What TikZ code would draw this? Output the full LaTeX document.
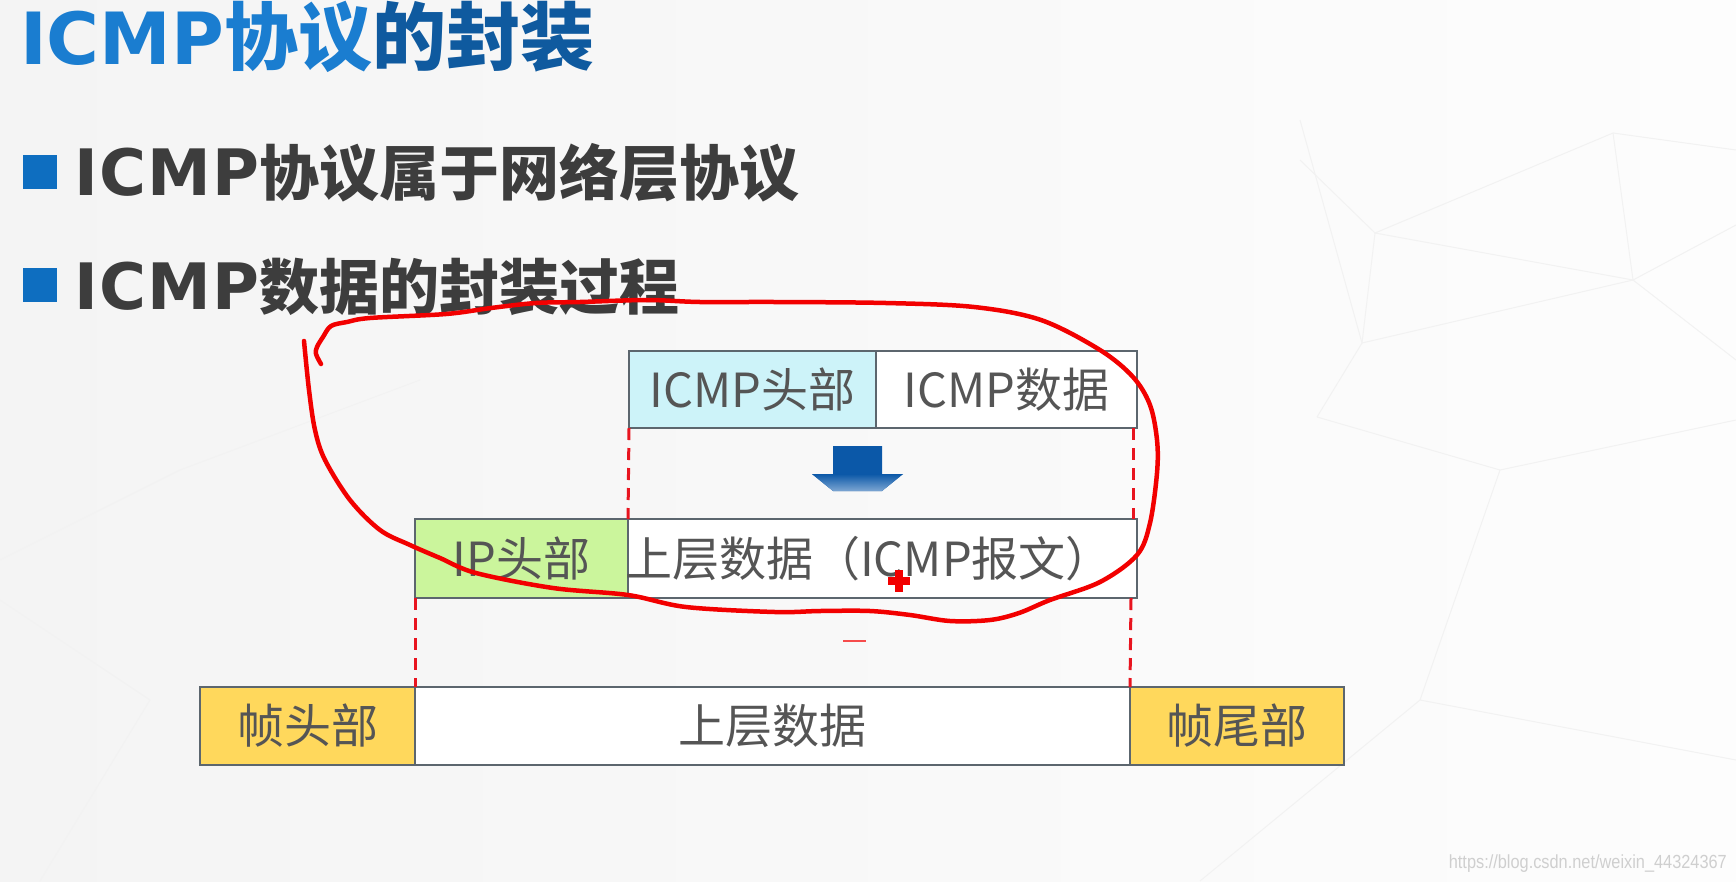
\documentclass[tikz,border=0pt]{standalone}
\usepackage{fontspec}
\newfontfamily\cjk{Noto Sans CJK SC}
\newfontfamily\latb{DejaVu Sans}
\newfontfamily\wmfont{Liberation Sans}
\definecolor{bgL}{HTML}{F4F4F4}
\definecolor{bgR}{HTML}{FDFDFD}
\definecolor{bgline}{HTML}{F2F2F2}
\definecolor{titleA}{HTML}{1A7DD0}
\definecolor{titleB}{HTML}{0F5A9F}
\definecolor{bullblue}{HTML}{0E6EC0}
\definecolor{bulltext}{HTML}{3D3D3D}
\definecolor{boxline}{HTML}{5C666E}
\definecolor{boxtext}{HTML}{555555}
\definecolor{cyanfill}{HTML}{CDF3F9}
\definecolor{greenfill}{HTML}{CBF59C}
\definecolor{yellowfill}{HTML}{FFD85C}
\definecolor{dashred}{HTML}{E8141F}
\definecolor{penred}{HTML}{F20000}
\definecolor{arrowblue}{HTML}{0B58A8}
\definecolor{arrowlight}{HTML}{7DA6D2}
\definecolor{wmgray}{HTML}{CFCFCF}
\begin{document}
\begin{tikzpicture}[x=1pt,y=-1pt,
  pktbox/.style={draw=boxline, line width=2pt, inner sep=0pt, outer sep=0pt,
    text=boxtext, font=\cjk\fontsize{47}{47}\selectfont},
  reddash/.style={draw=dashred, line width=3pt, dash pattern=on 12pt off 8pt},
  redpen/.style={draw=penred, line width=4.5pt, line cap=round, line join=round},
  bullsq/.style={fill=bullblue, minimum size=34pt, inner sep=0pt},
  bulltxt/.style={anchor=base west, inner sep=0pt, text=bulltext,
    font=\cjk\bfseries\fontsize{60}{60}\selectfont},
  bgstroke/.style={draw=bgline, line width=1pt}
]
\useasboundingbox (0,0) rectangle (1736,881);
\shade[left color=bgL, right color=bgR] (0,0) rectangle (1736,881);
% faint background mesh
\draw[bgstroke] (1300,160) -- (1375,233) -- (1613,133) -- (1736,150);
\draw[bgstroke] (1375,233) -- (1362,343) -- (1317,417);
\draw[bgstroke] (1362,343) -- (1633,280) -- (1736,225);
\draw[bgstroke] (1375,233) -- (1633,280);
\draw[bgstroke] (1613,133) -- (1633,280) -- (1736,360);
\draw[bgstroke] (1300,120) -- (1362,343);
\draw[bgstroke] (1317,417) -- (1500,470) -- (1736,420);
\draw[bgstroke] (0,560) -- (180,470) -- (420,380);
\draw[bgstroke] (40,881) -- (150,700) -- (0,600);
\draw[bgstroke] (1200,881) -- (1420,700) -- (1736,760);
\draw[bgstroke] (1420,700) -- (1500,470);

% title
\node[anchor=base west, inner sep=0pt, font=\cjk\bfseries\fontsize{74}{74}\selectfont]
  (title) at (20,64) {\textcolor{titleA}{{\latb\bfseries\fontsize{72}{72}\selectfont ICMP}协议}\textcolor{titleB}{的封装}};

% bullets
\node[bullsq] (sq1) at (40,171.5) {};
\node[bulltxt] (b1) at (74,195) {{\latb\bfseries\fontsize{64}{64}\selectfont\addfontfeature{LetterSpace=2}ICMP}协议属于网络层协议};
\node[bullsq] (sq2) at (40,285) {};
\node[bulltxt] (b2) at (74,309) {{\latb\bfseries\fontsize{64}{64}\selectfont\addfontfeature{LetterSpace=2}ICMP}数据的封装过程};

% ICMP row
\node[pktbox, fill=cyanfill, minimum width=247pt, minimum height=77pt] (icmph) at (752.5,389.5) {ICMP头部};
\node[pktbox, fill=white, minimum width=261pt, minimum height=77pt] (icmpd) at (1006.5,389.5) {ICMP数据};

% IP row
\node[pktbox, fill=greenfill, minimum width=213pt, minimum height=79pt] (iph) at (521.5,558.5) {IP头部};
\node[pktbox, fill=white, minimum width=509pt, minimum height=79pt] (upd) at (882.5,558.5) {};
\node[inner sep=0pt, text=boxtext, font=\cjk\fontsize{47}{47}\selectfont] (updt) at (869,558.5) {上层数据（ICMP报文）};

% frame row
\node[pktbox, fill=yellowfill, minimum width=215pt, minimum height=78pt] (fh) at (307.5,726) {帧头部};
\node[pktbox, fill=white, minimum width=715pt, minimum height=78pt] (fd) at (772.5,726) {上层数据};
\node[pktbox, fill=yellowfill, minimum width=214pt, minimum height=78pt] (ft) at (1237,726) {帧尾部};

% dashed guides
\draw[reddash] (icmph.south west) -- (iph.north east);
\draw[reddash] ([xshift=-4pt]icmpd.south east) -- ([xshift=-4pt]upd.north east);
\draw[reddash] (iph.south west) -- (fd.north west);
\draw[reddash] ([xshift=-6pt]upd.south east) -- (fd.north east);

% blue arrow
\fill[arrowblue] (833,446) -- (882,446) -- (882,474) -- (903,474) -- (882,491) -- (833,491) -- (812,474) -- (833,474) -- cycle;
\shade[top color=arrowblue, bottom color=arrowlight] (812,474) -- (903,474) -- (882,491) -- (833,491) -- cycle;

% hand-drawn red loop
\draw[redpen] plot[smooth, tension=0.55] coordinates {(321,364) (316,354) (317,347) (323,337) (331,326) (347,322) (370,318) (446,314) (491,308) (536,303) (580,302) (647,300) (700,302) (775,302) (886,303) (974,307) (1041,320) (1100,350) (1133,377) (1150,405) (1157,440) (1157,473) (1150,523) (1137,555) (1100,582) (1050,600) (1019,613) (990,620) (950,621) (910,615) (870,611) (820,611) (775,612) (686,607) (628,595) (553,588) (476,573) (440,558) (410,545) (380,530) (350,500) (325,460) (315,430) (309,390) (304,341)};
\draw[draw=penred!70, line width=2pt] (843,641) -- (866,641);
% cursor cross
\fill[penred] (895,570) rectangle (903,592);
\fill[penred] (888,577) rectangle (910,585);

% watermark
\node[anchor=base east, inner sep=0pt, text=wmgray, font=\wmfont\fontsize{19}{19}\selectfont] (wm) at (1727,868) {\scalebox{0.86}[1]{https://blog.csdn.net/weixin\_44324367}};
\end{tikzpicture}
\end{document}
